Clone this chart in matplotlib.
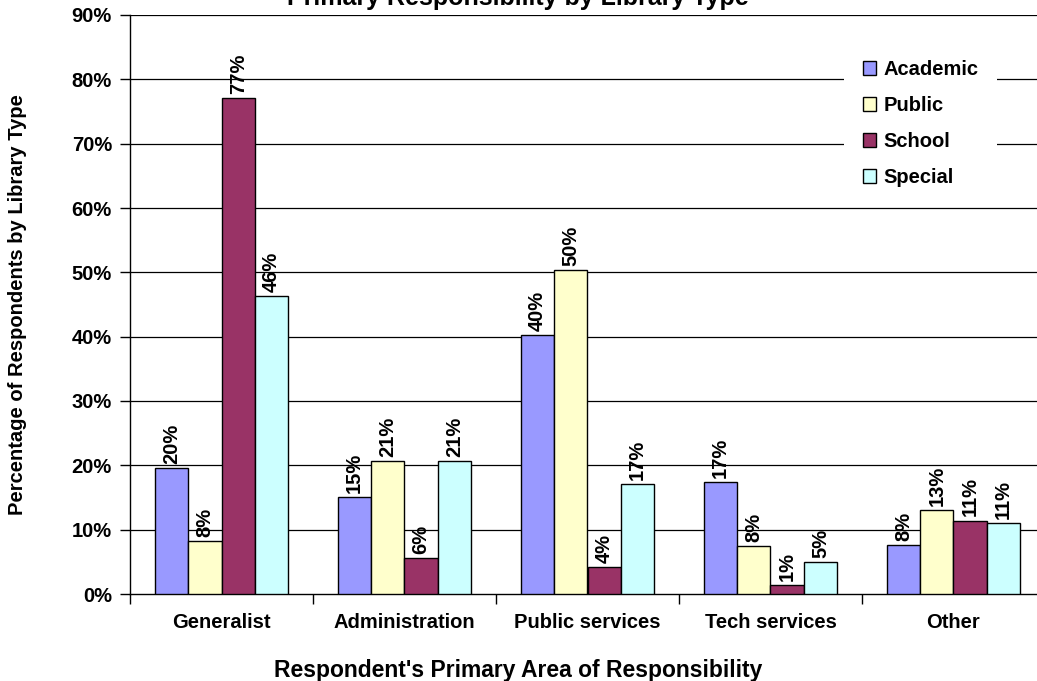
import matplotlib
matplotlib.use("Agg")
import matplotlib.pyplot as plt
import numpy as np

categories = ["Generalist", "Administration", "Public services", "Tech services", "Other"]
series_names = ["Academic", "Public", "School", "Special"]
academic = [19.6, 15.1, 40.2, 17.4, 7.6]
public = [8.2, 20.6, 50.4, 7.5, 13.1]
school = [77.1, 5.6, 4.2, 1.4, 11.4]
special = [46.3, 20.7, 17.1, 4.9, 11.0]
colors = ["#9999FF", "#FFFFCC", "#993366", "#CCFFFF"]
yticks = [0, 10, 20, 30, 40, 50, 60, 70, 80, 90]

plt.rcParams['font.family'] = ['Liberation Sans', 'DejaVu Sans']
plt.rcParams['font.weight'] = 'bold'

FS = 14.5
W, H = 1037, 681
fig = plt.figure(figsize=(W / 100, H / 100), dpi=100)
ax = fig.add_axes([130 / W, 1 - 594 / H, (1045 - 130) / W, (594 - 15) / H])

data = [academic, public, school, special]
x = np.arange(len(categories))
bw = 33.4 / 183
for i, (name, vals, c) in enumerate(zip(series_names, data, colors)):
    xs = x + (i - 1.5) * bw
    ax.bar(xs, vals, width=bw, color=c, edgecolor='black', linewidth=1.0, label=name, zorder=3)
    for xi, v in zip(xs, vals):
        ax.annotate(f"{v:.0f}%", (xi, v), xytext=(0, 3), textcoords='offset points',
                    rotation=90, ha='center', va='bottom', fontsize=FS, fontweight='bold', zorder=4)

ax.set_xlim(-0.5, len(categories) - 0.5)
ax.set_ylim(0, 90)
ax.set_yticks(yticks)
ax.set_yticklabels([f"{t}%" for t in yticks], fontsize=FS, fontweight='bold')
for t in yticks[1:]:
    ax.axhline(t, color='black', linewidth=0.9, zorder=1)

ax.set_xticks(np.arange(len(categories) + 1) - 0.5)
ax.set_xticklabels([])
ax.set_xticks(x, minor=True)
ax.set_xticklabels(categories, minor=True, fontsize=FS, fontweight='bold')
ax.tick_params(axis='x', which='major', length=7, width=1, direction='out')
ax.tick_params(axis='x', which='minor', length=0, pad=14)
ax.tick_params(axis='y', length=7, width=1, direction='out', pad=6)

for s in ['top', 'right']:
    ax.spines[s].set_visible(False)
for s in ['left', 'bottom']:
    ax.spines[s].set_linewidth(1.0)

fig.text(518 / W, 1 - 670 / H, "Respondent's Primary Area of Responsibility", ha='center', va='center',
         fontsize=16.5, fontweight='bold')
fig.text(18 / W, 1 - 305 / H, "Percentage of Respondents by Library Type", ha='center', va='center',
         rotation=90, fontsize=FS, fontweight='bold')
fig.text(518 / W, 1 - 5 / H, "Primary Responsibility by Library Type", ha='center', va='baseline',
         fontsize=18, fontweight='bold')

leg = ax.legend(loc='upper left', bbox_to_anchor=(844 / W, 1 - 41 / H), bbox_transform=fig.transFigure,
                frameon=True, fancybox=False, edgecolor='none', facecolor='white', framealpha=1,
                prop={'weight': 'bold', 'size': FS}, handlelength=0.65, handleheight=0.65,
                handletextpad=0.35, labelspacing=0.84, borderpad=0.95, borderaxespad=0)
leg.set_zorder(5)

fig.savefig("out.png", dpi=100)
